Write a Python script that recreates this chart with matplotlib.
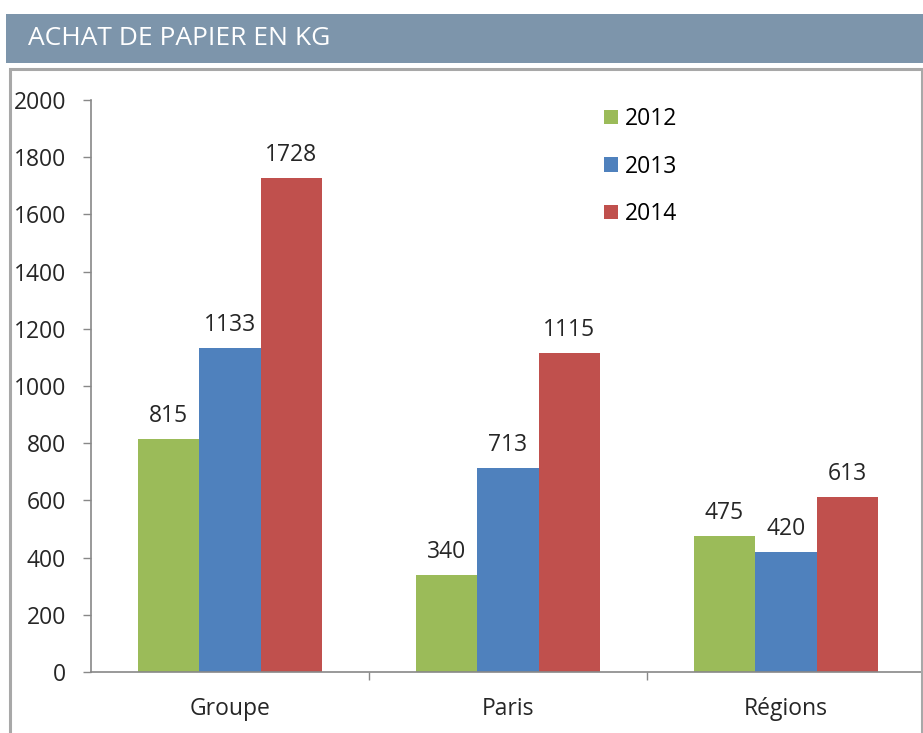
import matplotlib

matplotlib.use("Agg", force=True)
import matplotlib.pyplot as plt
import numpy as np
from matplotlib.patches import Rectangle

plt.rcParams["font.family"] = ["Open Sans", "DejaVu Sans"]

categories = ["Groupe", "Paris", "Régions"]
years = ["2012", "2013", "2014"]
values_2012 = [815, 340, 475]
values_2013 = [1133, 713, 420]
values_2014 = [1728, 1115, 613]
y_ticks = [0, 200, 400, 600, 800, 1000, 1200, 1400, 1600, 1800, 2000]
title = "ACHAT DE PAPIER EN KG"

colors = ["#9BBB59", "#4F81BD", "#C0504D"]
W, H = 923, 733


def fx(px):
    return px / W


def fy(py):
    return 1 - py / H


fig = plt.figure(figsize=(W / 100, H / 100), dpi=100)
fig.patch.set_facecolor("white")

# header band
head = fig.add_axes([fx(6), fy(63), fx(917), 49 / H])
head.set_facecolor("#7D95AB")
head.set_xticks([])
head.set_yticks([])
for s in head.spines.values():
    s.set_visible(False)
fig.text(fx(28), fy(45), title, color="white", fontsize=19, va="baseline", ha="left")

# frame around the chart
fig.patches.append(
    Rectangle((fx(10), -0.02), fx(912), fy(69) + 0.02, transform=fig.transFigure,
              fill=False, edgecolor="#A8A8A8", linewidth=2.2)
)

ax = fig.add_axes([fx(91), fy(672), fx(834), 572 / H])
ax.set_facecolor("none")
x = np.arange(len(categories))
width = 0.221
series = [values_2012, values_2013, values_2014]
for i, (vals, year, color) in enumerate(zip(series, years, colors)):
    bars = ax.bar(x + (i - 1) * width, vals, width, color=color, label=year, zorder=2)
    ax.bar_label(bars, labels=[str(v) for v in vals], padding=8, fontsize=16.5, color="#262626")

ax.set_xlim(-0.5, 2.5)
ax.set_ylim(0, 2000)
ax.set_yticks(y_ticks)
ax.set_yticklabels([str(t) for t in y_ticks])
ax.set_xticks(x)
ax.set_xticklabels(categories)
ax.set_xticks([0.5, 1.5], minor=True)
ax.tick_params(axis="y", length=6, width=1, color="#888888", pad=12, labelsize=16.5, labelcolor="#262626")
ax.tick_params(axis="x", which="major", length=0, pad=18, labelsize=16.5, labelcolor="#262626")
ax.tick_params(axis="x", which="minor", length=6, width=1, color="#888888")
for side in ["top", "right"]:
    ax.spines[side].set_visible(False)
for side in ["left", "bottom"]:
    ax.spines[side].set_color("#888888")
    ax.spines[side].set_linewidth(1.2)

ax.legend(loc="upper left", bbox_to_anchor=((604 - 91) / 834, 1 - 7 / 572),
          frameon=False, fontsize=16.5, handlelength=0.6, handleheight=0.6,
          handletextpad=0.3, labelspacing=1.03, borderaxespad=0, borderpad=0)

fig.savefig("out.png", dpi=100)
